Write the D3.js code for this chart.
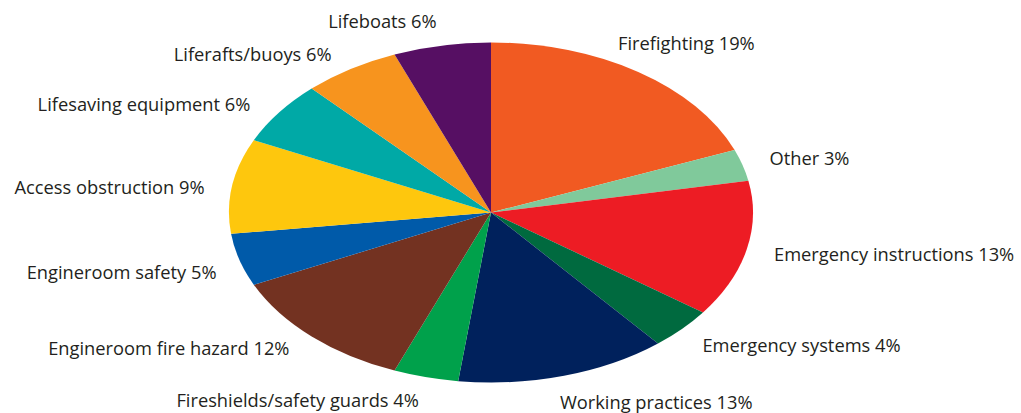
<!DOCTYPE html>
<html>
<head>
<meta charset="utf-8">
<script src="https://cdn.jsdelivr.net/npm/d3@7"></script>
<style>
  html, body { margin: 0; padding: 0; background: #ffffff; }
  svg { display: block; }
  .label { font-family: "Open Sans", "Noto Sans", sans-serif; font-size: 18.3px; fill: #231f20; }
</style>
</head>
<body>
<svg id="chart" width="1021" height="413"></svg>
<script>
// Share of findings by category, clockwise from the top
const categories = [
  "Firefighting", "Other", "Emergency instructions", "Emergency systems",
  "Working practices", "Fireshields/safety guards", "Engineroom fire hazard",
  "Engineroom safety", "Access obstruction", "Lifesaving equipment",
  "Liferafts/buoys", "Lifeboats"
];
const shares = [19, 3, 13, 4, 13, 4, 12, 5, 9, 6, 6, 6];
const sliceColors = [
  "#f15a22", "#80c99b", "#ed1c24", "#006a3f", "#00215c", "#00a14b",
  "#733221", "#005aa9", "#fec70d", "#00a9a6", "#f7941e", "#560f63"
];

const width = 1021, height = 413;
const cx = 491, cy = 212.5;
const rx = 262, ry = 170;          // pie is drawn as a flattened ellipse
const labelRx = 290, labelRy = 194; // ellipse on which labels are anchored

// Small hand adjustments for labels that sit off the common ring
const labelShift = {
  "Firefighting": [-36, -8],
  "Working practices": [-12, 4],
  "Lifesaving equipment": [-6, 6],
  "Liferafts/buoys": [-4, 6],
  "Engineroom safety": [4, 6],
  "Access obstruction": [0, 5],
  "Engineroom fire hazard": [-3, -5]
};

const data = categories.map((c, i) => ({ name: c, value: shares[i] }));

const color = d3.scaleOrdinal().domain(categories).range(sliceColors);

const pie = d3.pie()
  .value(d => d.value)
  .sort(null)
  .startAngle(0)
  .endAngle(2 * Math.PI);

const arcs = pie(data);

const arc = d3.arc().innerRadius(0).outerRadius(ry);

const svg = d3.select("#chart");

svg.append("g")
  .attr("transform", `translate(${cx},${cy}) scale(${rx / ry},1)`)
  .selectAll("path")
  .data(arcs)
  .join("path")
  .attr("d", arc)
  .attr("fill", d => color(d.data.name));

svg.append("g")
  .selectAll("text")
  .data(arcs)
  .join("text")
  .attr("class", "label")
  .each(function (d) {
    const a = (d.startAngle + d.endAngle) / 2;
    const s = labelShift[d.data.name] || [0, 0];
    const x = cx + labelRx * Math.sin(a) + s[0];
    const y = cy - labelRy * Math.cos(a) + s[1];
    d3.select(this)
      .attr("x", x)
      .attr("y", y)
      .attr("dy", "0.35em")
      .attr("text-anchor", Math.sin(a) >= 0 ? "start" : "end");
  })
  .text(d => `${d.data.name} ${d.data.value}%`);
</script>
</body>
</html>
